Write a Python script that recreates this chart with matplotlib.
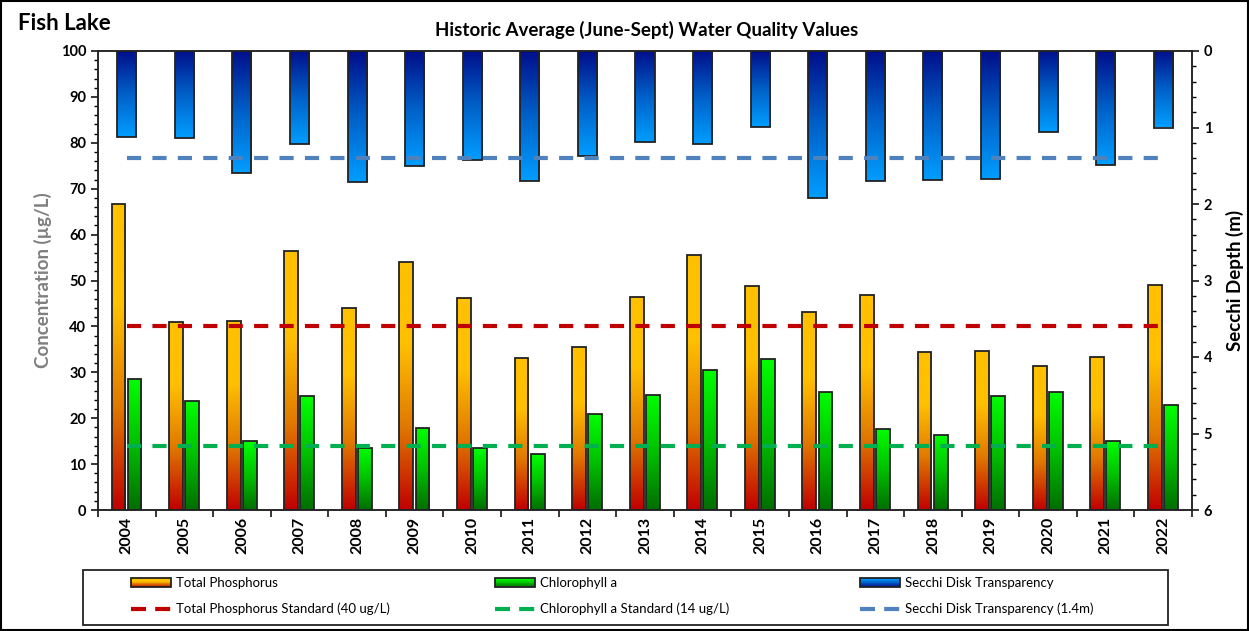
import matplotlib
matplotlib.use("Agg")
import matplotlib.pyplot as plt
import numpy as np
from matplotlib.colors import LinearSegmentedColormap
from matplotlib.patches import Rectangle
from matplotlib.lines import Line2D
from matplotlib.legend_handler import HandlerBase
from matplotlib.ticker import MultipleLocator

plt.rcParams['font.family'] = ['Lato', 'DejaVu Sans']

years = [str(y) for y in range(2004, 2023)]
total_phos = [66.7, 40.9, 41.2, 56.4, 43.9, 54.1, 46.1, 33.2, 35.5, 46.5,
              55.5, 48.8, 43.1, 46.8, 34.4, 34.6, 31.3, 33.4, 49.0]
chl_a = [28.6, 23.8, 15.0, 24.8, 13.6, 17.9, 13.4, 12.1, 20.9, 25.1,
         30.6, 32.9, 25.6, 17.7, 16.4, 24.9, 25.8, 15.0, 22.8]
secchi = [1.12, 1.14, 1.60, 1.22, 1.71, 1.50, 1.43, 1.70, 1.37, 1.19,
          1.22, 0.99, 1.92, 1.70, 1.69, 1.67, 1.06, 1.49, 1.00]
tp_std = 40
chl_std = 14
secchi_std = 1.4

tp_cmap = LinearSegmentedColormap.from_list('tp', ['#C00000', '#E07800', '#FFC000', '#FFC000'])
chl_cmap = LinearSegmentedColormap.from_list('chl', ['#006E00', '#00C000', '#00FF00'])
sec_cmap = LinearSegmentedColormap.from_list('sec', ['#000E8A', '#0060C8', '#009EFF'])

fig = plt.figure(figsize=(12.49, 6.31), dpi=100)
ax = fig.add_axes([98 / 1249, 1 - 510 / 631, 1094 / 1249, 459 / 631])
ax2 = ax.twinx()

x = np.arange(len(years))
grad = np.linspace(0, 1, 256).reshape(-1, 1)


def grad_bars(axis, xs, vals, width, cmap):
    bars = axis.bar(xs, vals, width, facecolor='none', edgecolor='#222222', linewidth=1.3, zorder=3)
    for b in bars:
        x0, w, h = b.get_x(), b.get_width(), b.get_height()
        im = axis.imshow(grad, cmap=cmap, aspect='auto', origin='lower',
                         extent=[x0, x0 + w, 0, h], zorder=2)
        im.set_clip_path(b)
    return bars


grad_bars(ax, x - 0.145, total_phos, 0.24, tp_cmap)
grad_bars(ax, x + 0.135, chl_a, 0.24, chl_cmap)
grad_bars(ax2, x, secchi, 0.33, sec_cmap)

dash = (0, (3.4, 2.7))
ax.plot([x[0], x[-1]], [tp_std, tp_std], color='#C00000', lw=3, ls=dash, zorder=4)
ax.plot([x[0], x[-1]], [chl_std, chl_std], color='#00B050', lw=3, ls=dash, zorder=4)
ax2.plot([x[0], x[-1]], [secchi_std, secchi_std], color='#4F81BD', lw=3, ls=dash, zorder=4)

ax.set_xlim(-0.5, len(years) - 0.5)
ax.set_ylim(0, 100)
ax2.set_ylim(6, 0)
ax.yaxis.set_major_locator(MultipleLocator(10))
ax.yaxis.set_minor_locator(MultipleLocator(2))
ax2.yaxis.set_major_locator(MultipleLocator(1))
ax2.yaxis.set_minor_locator(MultipleLocator(0.2))

ax.set_xticks(x)
ax.set_xticklabels(years, rotation=90, fontsize=11.5, fontweight='bold')
ax.set_xticks(np.arange(-0.5, len(years), 1), minor=True)
ax.tick_params(axis='x', which='major', length=0, pad=5)
ax.tick_params(axis='x', which='minor', length=5, width=1.1, direction='out')
ax.tick_params(axis='y', which='major', length=5, width=1.1, labelsize=10.5)
ax.tick_params(axis='y', which='minor', length=3, width=1)
ax2.tick_params(axis='y', which='major', length=5, width=1.1, labelsize=10.5)
ax2.tick_params(axis='y', which='minor', length=3, width=1)
for lab in ax.get_yticklabels() + ax2.get_yticklabels():
    lab.set_fontweight('bold')

for a in (ax, ax2):
    for s in a.spines.values():
        s.set_linewidth(1.1)
        s.set_color('#222222')
ax2.patch.set_visible(False)

ax.set_ylabel('Concentration (µg/L)', fontsize=13.5, fontweight='bold', color='#7F7F7F', labelpad=6)
ax2.set_ylabel('Secchi Depth (m)', fontsize=13.5, fontweight='bold', color='black', labelpad=10)

fig.text(18 / 1249, 1 - 23 / 631, 'Fish Lake', fontsize=16, fontweight='bold', va='center', ha='left')
fig.text(647 / 1249, 1 - 30 / 631, 'Historic Average (June-Sept) Water Quality Values',
         fontsize=13.5, fontweight='bold', va='center', ha='center')


class GradHandler(HandlerBase):
    def __init__(self, cmap):
        super().__init__()
        self.cmap = cmap

    def create_artists(self, legend, orig_handle, xd, yd, width, height, fontsize, trans):
        arts = []
        n = 12
        h = height * 0.95
        y0 = yd
        for i in range(n):
            arts.append(Rectangle((xd, y0 + h * i / n), width, h / n, facecolor=self.cmap(i / (n - 1)),
                                  edgecolor='none', transform=trans))
        arts.append(Rectangle((xd, y0), width, h, facecolor='none', edgecolor='#222222',
                              linewidth=1.3, transform=trans))
        return arts


# legend frame
fig.patches.append(Rectangle((83 / 1249, 6 / 631), 1085 / 1249, 55 / 631, transform=fig.transFigure,
                             fill=False, edgecolor='#222222', linewidth=1.3))

columns = [
    (tp_cmap, '#C00000', 'Total Phosphorus', 'Total Phosphorus Standard (40 ug/L)', 131),
    (chl_cmap, '#00B050', 'Chlorophyll a', 'Chlorophyll a Standard (14 ug/L)', 495),
    (sec_cmap, '#4F81BD', 'Secchi Disk Transparency', 'Secchi Disk Transparency (1.4m)', 860),
]
for cmap, lcol, lab1, lab2, xpos in columns:
    hb = Rectangle((0, 0), 1, 1)
    hl = Line2D([], [], color=lcol, lw=3, ls=(0, (3.6, 2.2)))
    lg = fig.legend([hb, hl], [lab1, lab2], handler_map={hb: GradHandler(cmap)},
                    loc='upper left', bbox_to_anchor=(xpos / 1249, 1 - 577 / 631),
                    frameon=False, fontsize=9.5, borderpad=0, borderaxespad=0,
                    handlelength=3.0, handletextpad=0.4, labelspacing=1.05)

fig.patches.append(Rectangle((0.001, 0.001), 0.998, 0.998, transform=fig.transFigure,
                             fill=False, edgecolor='black', linewidth=1.5))

fig.savefig('out.png', dpi=100)
